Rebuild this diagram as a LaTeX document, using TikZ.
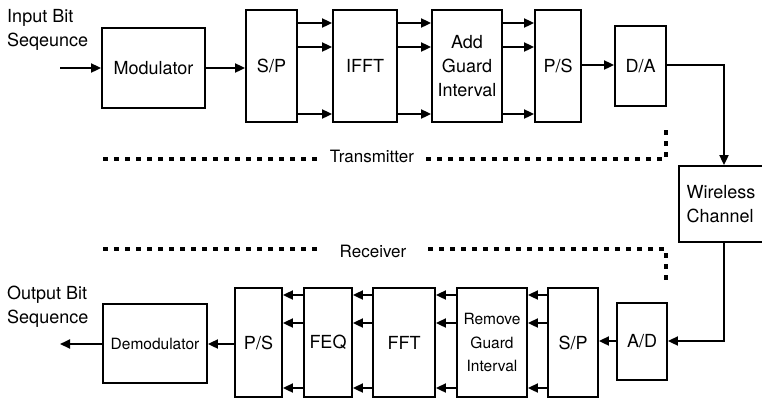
\documentclass[tikz,border=0pt]{standalone}
\usepackage{fontspec}
\setmainfont{TeX Gyre Heros}
\usetikzlibrary{arrows.meta}
\begin{document}
\begin{tikzpicture}[x=1pt,y=-1pt,
 box/.style={draw, line width=1.8pt, inner sep=0pt, align=center, font=\fontsize{18}{24}\selectfont},
 sbox/.style={box, font=\fontsize{15.5}{23.5}\selectfont},
 arr/.style={line width=1.8pt, -{Triangle[length=10pt,width=9pt]}},
 dots/.style={line width=4.5pt, dash pattern=on 4.5pt off 6.5pt},
 lbl/.style={font=\fontsize{18}{24}\selectfont, align=left, inner sep=0pt}]
\useasboundingbox (0,0) rectangle (762,400);

% transmitter
\node[box, minimum width=103pt, minimum height=80pt] (mod) at (153.5,68) {Modulator};
\node[box, minimum width=51pt, minimum height=112pt] (sp1) at (271.5,66) {S/P};
\node[box, minimum width=64pt, minimum height=112pt] (ifft) at (365,66) {IFFT};
\node[box, minimum width=70pt, minimum height=112pt] (agi) at (467,66) {Add\\Guard\\Interval};
\node[box, minimum width=46pt, minimum height=112pt] (ps1) at (558,66) {P/S};
\node[box, minimum width=51pt, minimum height=80pt] (da) at (640.5,66) {D/A};
\node[box, align=left, minimum width=84pt, minimum height=76pt] (wc) at (721,204) {Wireless\\Channel};

% receiver
\node[sbox, minimum width=104pt, minimum height=79pt] (dem) at (155,343.5) {Demodulator};
\node[box, minimum width=47pt, minimum height=109pt] (ps2) at (258.5,342.5) {P/S};
\node[box, minimum width=48pt, minimum height=109pt] (feq) at (328,342.5) {FEQ};
\node[box, minimum width=62pt, minimum height=109pt] (fft) at (404,342.5) {FFT};
\node[sbox, minimum width=70pt, minimum height=109pt] (rgi) at (492,342.5) {Remove\\Guard\\Interval};
\node[box, minimum width=50pt, minimum height=109pt] (sp2) at (573,342.5) {S/P};
\node[box, minimum width=50pt, minimum height=77pt] (ad) at (642,341.5) {A/D};

% labels
\node[lbl, anchor=west] (inlbl) at (7,30) {Input Bit\\Seqeunce};
\node[lbl, anchor=west] (outlbl) at (7,307) {Output Bit\\Sequence};

% row coordinates
\coordinate (in) at (60,68);
\coordinate (out) at (60,344);
\coordinate (ta) at (0,23);
\coordinate (tb) at (0,47);
\coordinate (tc) at (0,114);
\coordinate (ba) at (0,295);
\coordinate (bb) at (0,323);
\coordinate (bc) at (0,388);
\coordinate (c1) at (724,65);
\coordinate (c2) at (724,341);

% transmitter connectors
\draw[arr] (in) -- (mod.west |- in);
\draw[arr] (mod.east |- in) -- (sp1.west |- in);
\foreach \r in {ta,tb,tc}{
  \draw[arr] (sp1.east |- \r) -- (ifft.west |- \r);
  \draw[arr] (ifft.east |- \r) -- (agi.west |- \r);
  \draw[arr] (agi.east |- \r) -- (ps1.west |- \r);
}
\draw[arr] (ps1.east |- c1) -- (da.west |- c1);
\draw[arr] (da.east |- c1) -- (c1) -- (c1 |- wc.north);

% receiver connectors
\draw[arr] (c2 |- wc.south) -- (c2) -- (ad.east |- c2);
\draw[arr] (ad.west |- c2) -- (sp2.east |- c2);
\foreach \r in {ba,bb,bc}{
  \draw[arr] (sp2.west |- \r) -- (rgi.east |- \r);
  \draw[arr] (rgi.west |- \r) -- (fft.east |- \r);
  \draw[arr] (fft.west |- \r) -- (feq.east |- \r);
  \draw[arr] (feq.west |- \r) -- (ps2.east |- \r);
}
\draw[arr] (ps2.west |- out) -- (dem.east |- out);
\draw[arr] (dem.west |- out) -- (out);

% dotted boundaries
\coordinate (t1) at (103,159);
\coordinate (t2) at (666,159);
\coordinate (t3) at (666,126);
\node[inner xsep=12pt, inner ysep=0pt, font=\fontsize{17}{20}\selectfont] (tx) at (372,156) {Transmitter};
\draw[dots] (t1) -- (tx.west |- t1);
\draw[dots] (tx.east |- t1) -- (t2) -- (t3);

\coordinate (r1) at (103,249);
\coordinate (r2) at (666,249);
\coordinate (r3) at (666,282);
\node[inner xsep=22pt, inner ysep=0pt, font=\fontsize{17}{20}\selectfont] (rx) at (373,251) {Receiver};
\draw[dots] (r1) -- (rx.west |- r1);
\draw[dots] (rx.east |- r1) -- (r2) -- (r3);
\end{tikzpicture}
\end{document}
